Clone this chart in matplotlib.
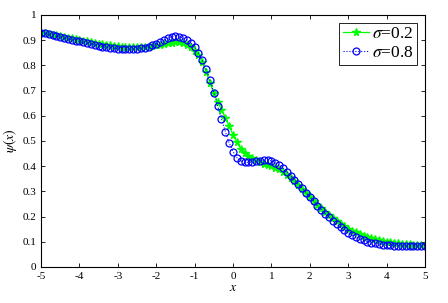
import numpy as np
import matplotlib
matplotlib.use("Agg")
import matplotlib.pyplot as plt

plt.rcParams['font.family'] = ['Liberation Serif', 'DejaVu Serif']
plt.rcParams['mathtext.fontset'] = 'stix'
plt.rcParams['axes.unicode_minus'] = False

x = np.round(np.arange(-50, 51) / 10.0, 1)

psi_s02 = [
    0.930, 0.928, 0.925, 0.922, 0.919, 0.916, 0.913, 0.910, 0.907, 0.904,
    0.901, 0.898, 0.895, 0.892, 0.889, 0.886, 0.884, 0.881, 0.879, 0.877,
    0.876, 0.874, 0.873, 0.873, 0.872, 0.872, 0.873, 0.874, 0.875, 0.877,
    0.879, 0.881, 0.884, 0.887, 0.890, 0.892, 0.892, 0.889, 0.882, 0.872,
    0.858, 0.840, 0.812, 0.775, 0.730, 0.690, 0.655, 0.625, 0.592, 0.558,
    0.525, 0.495, 0.470, 0.453, 0.441, 0.432, 0.424, 0.416, 0.410, 0.405,
    0.400, 0.394, 0.387, 0.378, 0.367, 0.354, 0.340, 0.325, 0.310, 0.294,
    0.279, 0.263, 0.248, 0.234, 0.220, 0.206, 0.194, 0.182, 0.171, 0.161,
    0.152, 0.144, 0.137, 0.130, 0.124, 0.119, 0.114, 0.110, 0.106, 0.103,
    0.100, 0.098, 0.096, 0.094, 0.092, 0.091, 0.090, 0.089, 0.088, 0.087,
    0.086]

psi_s08 = [
    0.930, 0.927, 0.923, 0.920, 0.916, 0.913, 0.909, 0.905, 0.902, 0.898,
    0.895, 0.891, 0.888, 0.884, 0.881, 0.878, 0.875, 0.872, 0.870, 0.868,
    0.866, 0.865, 0.864, 0.864, 0.865, 0.866, 0.868, 0.871, 0.875, 0.879,
    0.885, 0.892, 0.900, 0.908, 0.914, 0.917, 0.914, 0.908, 0.900, 0.888,
    0.872, 0.850, 0.820, 0.784, 0.741, 0.692, 0.640, 0.588, 0.537, 0.492,
    0.458, 0.434, 0.421, 0.416, 0.415, 0.416, 0.419, 0.422, 0.424, 0.424,
    0.421, 0.414, 0.404, 0.392, 0.378, 0.363, 0.347, 0.330, 0.313, 0.295,
    0.278, 0.261, 0.244, 0.228, 0.212, 0.197, 0.183, 0.170, 0.157, 0.146,
    0.136, 0.127, 0.119, 0.112, 0.106, 0.101, 0.097, 0.094, 0.091, 0.089,
    0.087, 0.086, 0.085, 0.084, 0.084, 0.083, 0.083, 0.083, 0.084, 0.084,
    0.085]

xticks = [-5, -4, -3, -2, -1, 0, 1, 2, 3, 4, 5]
yticks = [0, 0.1, 0.2, 0.3, 0.4, 0.5, 0.6, 0.7, 0.8, 0.9, 1]
yticklabels = ['0', '0.1', '0.2', '0.3', '0.4', '0.5', '0.6', '0.7', '0.8', '0.9', '1']

fig = plt.figure(figsize=(4.48, 3.03), dpi=100)
ax = fig.add_axes([41/448, 1-267/303, (425-41)/448, (267-15)/303])

ax.plot(x, psi_s02, '-', color=(0, 1, 0), marker='*', markersize=5.5, lw=0.9,
        label=r'$\sigma$=0.2')
ax.plot(x, psi_s08, ':', color=(0, 0, 1), marker='o', markersize=5,
        markerfacecolor='none', markeredgewidth=0.9, lw=0.8, label=r'$\sigma$=0.8')

ax.set_xlim(-5, 5)
ax.set_ylim(0, 1)
ax.set_xticks(xticks)
ax.set_xticklabels([str(t) for t in xticks])
ax.set_yticks(yticks)
ax.set_yticklabels(yticklabels)
ax.tick_params(direction='in', top=True, right=True, labelsize=8, length=3, width=0.6)
for s in ax.spines.values():
    s.set_linewidth(0.8)
ax.set_xlabel(r'$x$', fontsize=10, labelpad=0)
ax.set_ylabel(r'$\psi(x)$', fontsize=10, labelpad=2)

leg = ax.legend(loc='upper right', fontsize=12.5, fancybox=False, edgecolor='black',
                framealpha=1, handlelength=1.5, borderpad=0.2, labelspacing=0.15,
                handletextpad=0.2, borderaxespad=0.45)
leg.get_frame().set_linewidth(0.6)

fig.savefig('out.png', dpi=100)
